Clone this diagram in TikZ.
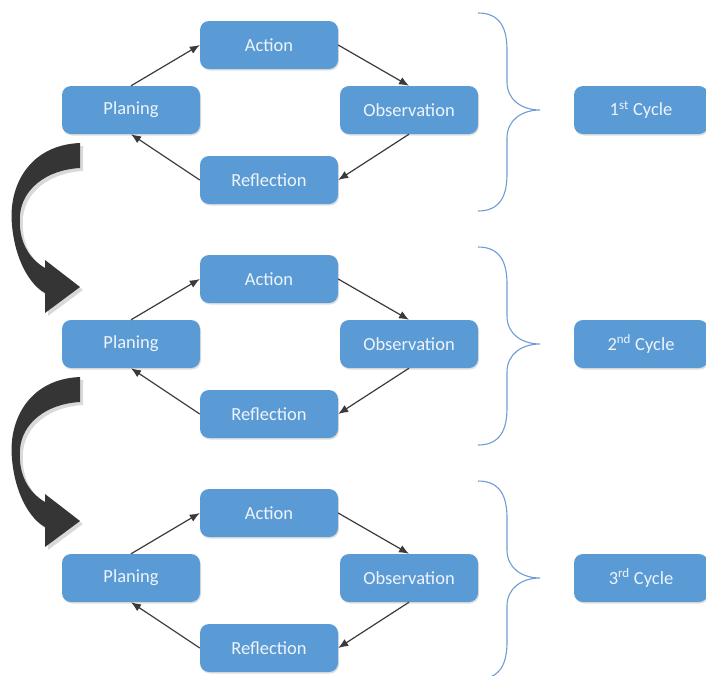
\documentclass[tikz,border=0pt]{standalone}
\usepackage{fontspec}
\setmainfont{Carlito}
\usetikzlibrary{arrows.meta, shadows}

\definecolor{boxblue}{HTML}{5B9BD5}
\definecolor{boxtext}{HTML}{EEF4FB}
\definecolor{linegray}{HTML}{3A3A3A}
\definecolor{bigarrow}{HTML}{353535}
\definecolor{braceblue}{HTML}{6F9DD3}

\tikzset{
  stage/.style={fill=boxblue, rounded corners=9pt, minimum width=138pt,
    minimum height=48pt, inner sep=0pt, text=boxtext,
    font=\fontsize{18.5}{20}\selectfont,
    drop shadow={shadow xshift=1pt, shadow yshift=-1.5pt, opacity=0.25}},
  cyclebox/.style={stage, minimum width=134pt},
  flow/.style={-{Latex[length=10pt,width=8pt]}, line width=1.2pt, linegray},
  brace/.style={braceblue, line width=1.1pt},
}

\begin{document}
\begin{tikzpicture}[x=1pt, y=-1pt]
	\useasboundingbox (0,0) rectangle (706,675);
	\def \gap {234}

	% one block per cycle
	\foreach \n/\suf in {1/st, 2/nd, 3/rd} {
	\begin{scope}[shift={(0,{(\n-1)*\gap})}]
		\node[stage] (act\n)  at (269,45)  {Action};
		\node[stage] (plan\n) at (131,110) {Planing};
		\node[stage] (obs\n)  at (409,110) {Observation};
		\node[stage] (ref\n)  at (269,180) {Reflection};
		\node[cyclebox] (cyc\n) at (641,110) {\n\textsuperscript{\suf} Cycle};

		\draw[flow] (plan\n.north) -- (act\n.west);
		\draw[flow] (act\n.east)   -- (obs\n.north);
		\draw[flow] (obs\n.south)  -- (ref\n.east);
		\draw[flow] (ref\n.west)   -- (plan\n.south);

		\draw[brace] (478,13) .. controls (500,13) and (507,28) .. (507,50)
			-- (507,82) .. controls (507,100) and (522,110) .. (540,110)
			.. controls (522,110) and (507,120) .. (507,138)
			-- (507,174) .. controls (507,196) and (500,211) .. (478,211);
	\end{scope}
	}

	% big arrows between the cycles
	\foreach \n in {0, 1} {
	\begin{scope}[shift={(0,{\n*\gap})}]
		\fill[black, opacity=0.15, shift={(3,3)}]
			(80,143) .. controls (30,145) and (8,185) .. (12,225)
			.. controls (15,260) and (30,285) .. (45,293)
			-- (45,313) -- (80,287) -- (45,260) -- (45,268)
			.. controls (28,258) and (18,240) .. (20,215)
			.. controls (22,190) and (45,170) .. (80,168) -- cycle;
		\fill[bigarrow]
			(80,143) .. controls (30,145) and (8,185) .. (12,225)
			.. controls (15,260) and (30,285) .. (45,293)
			-- (45,313) -- (80,287) -- (45,260) -- (45,268)
			.. controls (28,258) and (18,240) .. (20,215)
			.. controls (22,190) and (45,170) .. (80,168) -- cycle;
	\end{scope}
	}
\end{tikzpicture}
\end{document}
